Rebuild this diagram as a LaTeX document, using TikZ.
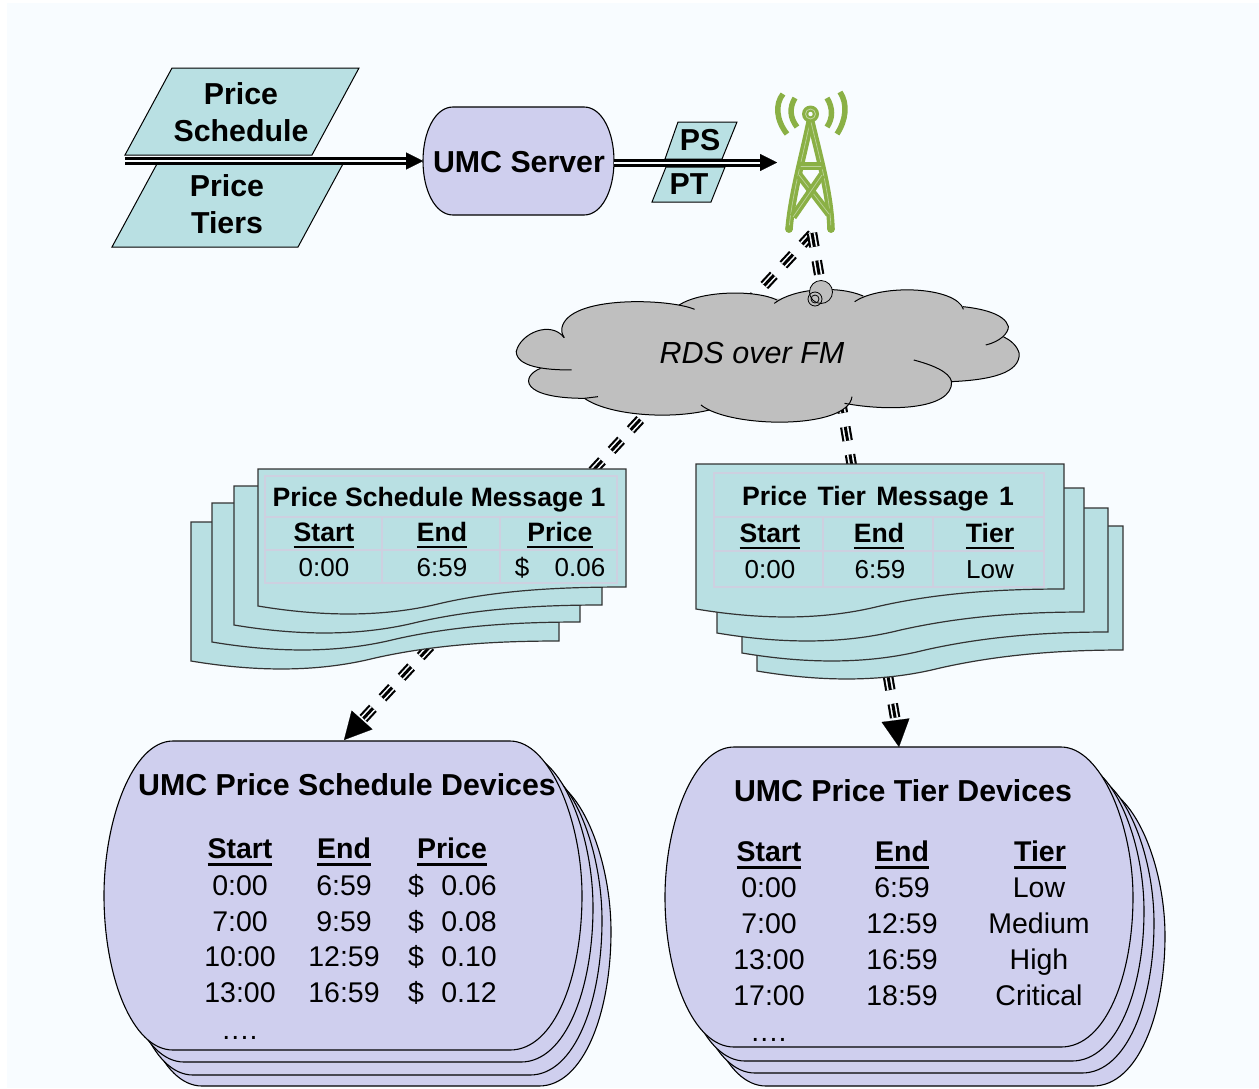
\documentclass[tikz,border=0pt]{standalone}
\usepackage{fontspec}
\setmainfont{Liberation Sans}
\usetikzlibrary{arrows.meta,calc}
\definecolor{bgc}{HTML}{F8FCFF}
\definecolor{teal}{HTML}{B9E0E3}
\definecolor{lilac}{HTML}{CFCFEE}
\definecolor{cloudc}{HTML}{BFBFBF}
\definecolor{gridc}{HTML}{CDD0E0}
\definecolor{towerc}{HTML}{8AB045}
\newcommand\ulbar[1]{\setbox0\hbox{#1}\rlap{\rule[-.28em]{\wd0}{.11em}}\box0}
\newcommand\gap{\hspace{3pt}}
\newcommand\fourdots{.\hspace{1.2pt}.\hspace{1.2pt}.\hspace{1.2pt}.}
\newcommand\fa{\fontsize{30.3}{36}\selectfont\bfseries}
\newcommand\fb{\fontsize{26.6}{31}\selectfont\bfseries}
\newcommand\fc{\fontsize{26}{31}\selectfont}
\newcommand\fd{\fontsize{28.5}{34}\selectfont}
\newcommand\fe{\fontsize{28.5}{34}\selectfont\bfseries}
\newcommand\msgdoc[5]{%
  \begin{scope}[shift={(#1,#2)},xscale=#5/368]
  \draw[docshape] (0,0) -- (368,0) -- (368,#3) .. controls (302,#3) and (242,{#4-16}) .. (184,{#4-3})
     .. controls (132,{#4+10}) and (72,{#4+12}) .. (0,#4) -- cycle;
  \end{scope}}
\newcommand\devshape[4]{%
  \begin{scope}[shift={(#1,#2)}]
  \draw[devstyle] (69,0) .. controls (28,0) and (0,{#4*.26}) .. (0,{#4*.5})
     .. controls (0,{#4*.76}) and (28,#4) .. (69,#4) -- ({#3-72},#4)
     .. controls ({#3-27},#4) and (#3,{#4*.76}) .. (#3,{#4*.5})
     .. controls (#3,{#4*.26}) and ({#3-32},0) .. ({#3-72},0) -- cycle;
  \end{scope}}
\newcommand\lobefill[1]{\fill[cloudc] #1;}
\newcommand\lobedraw[1]{\draw[black,line width=1pt] #1;}
\newcommand\cloudlobes[1]{%
  #1{(190,203) .. controls (150,150) and (60,190) .. (48,245) .. controls (50,290) and (130,300) .. (212,300)}
  #1{(120,295) .. controls (60,320) and (60,385) .. (250,385) -- (290,380)}
  #1{(250,385) .. controls (320,435) and (500,450) .. (620,420)}
  #1{(595,405) .. controls (680,475) and (1030,480) .. (1042,380)}
  #1{(1020,400) .. controls (1150,425) and (1340,420) .. (1337,335) .. controls (1330,305) and (1280,285) .. (1225,270)}
  #1{(1335,335) .. controls (1450,330) and (1540,310) .. (1537,250) .. controls (1530,225) and (1510,210) .. (1490,200)}
  #1{(1438,225) .. controls (1480,215) and (1505,190) .. (1505,170) .. controls (1495,130) and (1420,115) .. (1370,110)}
  #1{(1372,118) .. controls (1350,50) and (1130,40) .. (1050,95)}
  #1{(1075,78) .. controls (1000,45) and (870,55) .. (812,100)}
  #1{(820,90) .. controls (760,60) and (600,60) .. (530,105)}
  #1{(576,118) .. controls (500,85) and (200,75) .. (183,175) .. controls (182,190) and (186,197) .. (190,203)}
}
\begin{document}
\begin{tikzpicture}[x=1pt,y=-1pt,
  para/.style={draw=black,fill=teal,line width=1pt},
  docshape/.style={draw=black!80,fill=teal,line width=1.2pt},
  devstyle/.style={draw=black,fill=lilac,line width=1.1pt},
  dblline/.style={draw=black,double=bgc,line width=3pt,double distance=2pt},
  tipline/.style={draw=black,line width=.2pt,-{Triangle[length=17pt,width=17pt]}},
  bigtip/.style={draw=black,line width=.2pt,-{Triangle[length=27pt,width=28pt]}},
  tripleline/.style={line width=10.5pt,draw=black,dash pattern=on 14pt off 14.1pt,
     postaction={draw=bgc,double=black,line width=1.6pt,double distance=3pt,dash pattern=on 14pt off 14.1pt}},
  gridline/.style={draw=gridc,line width=2pt},
  cell/.style={anchor=base,inner sep=0pt,text=black},
  leg/.style={draw=towerc,double=bgc!45!towerc,line width=3.4pt,double distance=.7pt,line cap=round},
  wave/.style={draw=towerc,line width=5.5pt},
]
\useasboundingbox (0,0) rectangle (1259,1088);
\fill[white] (0,0) rectangle (1259,1088);
\fill[bgc] (7,3) rectangle (1259,1088);

% anchors for connectors
\coordinate (towerL) at (812,234);
\coordinate (towerR) at (812,233);
\coordinate (schedBase) at (362,720);
\coordinate (schedTip) at (344,740);
\coordinate (tierBase) at (895.5,720);
\coordinate (tierTip) at (899,747);
\coordinate (inStart) at (125,161);
\coordinate (inBase) at (408,161);
\coordinate (inTip) at (423,161);
\coordinate (outBase) at (762,162.5);
\coordinate (outTip) at (777,162.5);

% radio links, behind everything
\draw[tripleline] (towerL) -- (schedBase);
\draw[tripleline] (towerR) -- (tierBase);

% parallelograms
\draw[para] (172,68) -- (359,68) -- (312,155) -- (125,155) -- cycle;
\draw[para] (158,162) -- (344,162) -- (298,247) -- (112,247) -- cycle;
\draw[para] (678,122) -- (737,122) -- (722,159) -- (665,159) -- cycle;
\draw[para] (666,167) -- (725,167) -- (711,202) -- (652,202) -- cycle;
\node[cell,font=\fa] (p1a) at (241,104) {Price};
\node[cell,font=\fa] (p1b) at (241,141) {Schedule};
\node[cell,font=\fa] (p2a) at (227,196) {Price};
\node[cell,font=\fa] (p2b) at (227,233) {Tiers};
\node[cell,font=\fa] (ps) at (700,150) {PS};
\node[cell,font=\fa] (pt) at (689,194) {PT};

% server
\draw[devstyle] (453,107) .. controls (435,107) and (423,132) .. (423,161) .. controls (423,190) and (435,215) .. (453,215)
   -- (584,215) .. controls (602,215) and (614,190) .. (614,161) .. controls (614,132) and (602,107) .. (584,107) -- cycle;
\node[cell,font=\fa] (server) at (519,172) {UMC Server};
\coordinate (serverE) at (614,162.5);

% connectors top
\draw[dblline] (inStart) -- (inBase);
\draw[tipline] (inBase) -- (inTip);
\draw[black,line width=1.6pt] (158,162.5) -- (344,162.5);
\draw[dblline] (serverE) -- (outBase);
\draw[tipline] (outBase) -- (outTip);

% tower
\draw[wave,line cap=butt] (783,94) .. controls (775,104) and (776,120) .. (787,134);
\draw[wave,line cap=butt] (795,98) .. controls (789,108) and (790,118) .. (797,127);
\draw[wave,line cap=butt] (840,92) .. controls (848,104) and (846,120) .. (837,134);
\draw[wave,line cap=butt] (827,98) .. controls (833,108) and (833,118) .. (827,127);
\draw[leg] (810,122) .. controls (802,160) and (792,195) .. (789,229);
\draw[leg] (811,122) .. controls (820,160) and (830,195) .. (831,229);
\draw[leg] (801,166) -- (821,166);
\draw[leg,line cap=butt] (799,175) -- (829,214);
\draw[leg,line cap=butt] (822,175) -- (793,217);
\fill[towerc] (789,229) circle (3.8);
\fill[towerc] (831,229) circle (3.8);
\fill[towerc] (810.5,114) circle (8.5);
\draw[bgc!50!towerc,line width=.8pt] (810.5,114) circle (5);
\fill[bgc] (810.5,114) circle (2.2);

% cloud
\begin{scope}[shift={(500,270)},x=.3378pt,y=-.3333pt]
  \cloudlobes{\lobefill}
  \filldraw[fill=cloudc,draw=cloudc,line width=4pt,line join=round] (195,203) -- (535,108) -- (820,92) -- (1072,82) -- (1368,120) -- (1485,202) -- (1332,333) -- (1040,378) -- (1018,396) -- (620,416) -- (252,381) -- (125,295) -- cycle;
  \cloudlobes{\lobedraw}
\end{scope}
\draw[black,line width=.8pt,fill=cloudc] (821,292) circle (11.5);
\draw[black,line width=.8pt] (815,299) circle (7);
\draw[black,line width=.8pt] (815,299) circle (4);
\node[cell,font=\fontsize{30.5}{36}\selectfont\itshape] (rds) at (752,363) {RDS over FM};

% message stacks
\msgdoc{191}{522}{119}{139}{368}
\msgdoc{212}{503}{119}{139}{368}
\msgdoc{234}{486}{119}{139}{368}
\msgdoc{258}{469}{118}{137}{368}
\msgdoc{757}{526}{124}{145}{366}
\msgdoc{742}{508}{124}{145}{366}
\msgdoc{717}{488}{124}{145}{367}
\msgdoc{696}{464}{125}{145}{368}

% left table
\draw[gridline] (265,476) rectangle (617,583);
\draw[gridline] (265,517) -- (617,517) (265,550) -- (617,550) (382,517) -- (382,583) (500,517) -- (500,583);
\node[cell,font=\fb] (lt) at (439,506) {Price Schedule Message 1};
\node[cell,font=\fb] (lt1) at (324,541) {\ulbar{Start}};
\node[cell,font=\fb] (lt2) at (442,541) {\ulbar{End}};
\node[cell,font=\fb] (lt3) at (560,541) {\ulbar{Price}};
\node[cell,font=\fc] (lv1) at (324,576) {0:00};
\node[cell,font=\fc] (lv2) at (442,576) {6:59};
\node[cell,font=\fc] (lv3) at (522,576) {\$};
\node[cell,font=\fc] (lv4) at (580,576) {0.06};

% right table
\draw[gridline] (714,473) rectangle (1044,587);
\draw[gridline] (714,517) -- (1044,517) (714,551) -- (1044,551) (823,517) -- (823,587) (933,517) -- (933,587);
\node[cell,font=\fb] (rt) at (878,505) {Price\gap{} Tier\gap{} Message\gap{} 1};
\node[cell,font=\fb] (rt1) at (770,542) {\ulbar{Start}};
\node[cell,font=\fb] (rt2) at (879,542) {\ulbar{End}};
\node[cell,font=\fb] (rt3) at (990,542) {\ulbar{Tier}};
\node[cell,font=\fc] (rv1) at (770,578) {0:00};
\node[cell,font=\fc] (rv2) at (880,578) {6:59};
\node[cell,font=\fc] (rv3) at (990,578) {Low};

% device stacks
\devshape{133}{777}{478}{309}
\devshape{124}{766}{478}{309}
\devshape{115}{753}{478}{309}
\devshape{104}{741}{478}{309}
\devshape{697}{786}{468}{300}
\devshape{686}{773}{468}{300}
\devshape{676}{761}{468}{300}
\devshape{665}{747}{468}{300}

% arrow heads on devices
\draw[bigtip] (schedBase) -- (schedTip);
\draw[bigtip] (tierBase) -- (tierTip);

% left device text
\node[cell,font=\fa] (ld) at (347,795) {UMC Price Schedule Devices};
\node[cell,font=\fe] (ldh1) at (240,858) {\ulbar{Start}};
\node[cell,font=\fe] (ldh2) at (344,858) {\ulbar{End}};
\node[cell,font=\fe] (ldh3) at (452,858) {\ulbar{Price}};
\foreach \st/\en/\pr/\yy [count=\i] in {0:00/6:59/0.06/895,7:00/9:59/0.08/931,10:00/12:59/0.10/966,13:00/16:59/0.12/1002}{
  \node[cell,font=\fd] (lds\i) at (240,\yy) {\st};
  \node[cell,font=\fd] (lde\i) at (344,\yy) {\en};
  \node[cell,font=\fd] (ldd\i) at (416,\yy) {\$};
  \node[cell,font=\fd] (ldp\i) at (469,\yy) {\pr};
}
\node[cell,font=\fd] (ldx) at (240,1039) {\fourdots};

% right device text
\node[cell,font=\fa] (rd) at (903,801) {UMC Price Tier Devices};
\node[cell,font=\fe] (rdh1) at (769,861) {\ulbar{Start}};
\node[cell,font=\fe] (rdh2) at (902,861) {\ulbar{End}};
\node[cell,font=\fe] (rdh3) at (1040,861) {\ulbar{Tier}};
\foreach \st/\en/\pr/\yy [count=\i] in {0:00/6:59/Low/897,7:00/12:59/Medium/933,13:00/16:59/High/969,17:00/18:59/Critical/1005}{
  \node[cell,font=\fd] (rds\i) at (769,\yy) {\st};
  \node[cell,font=\fd] (rde\i) at (902,\yy) {\en};
  \node[cell,font=\fd] (rdp\i) at (1039,\yy) {\pr};
}
\node[cell,font=\fd] (rdx) at (769,1041) {\fourdots};
\end{tikzpicture}
\end{document}
